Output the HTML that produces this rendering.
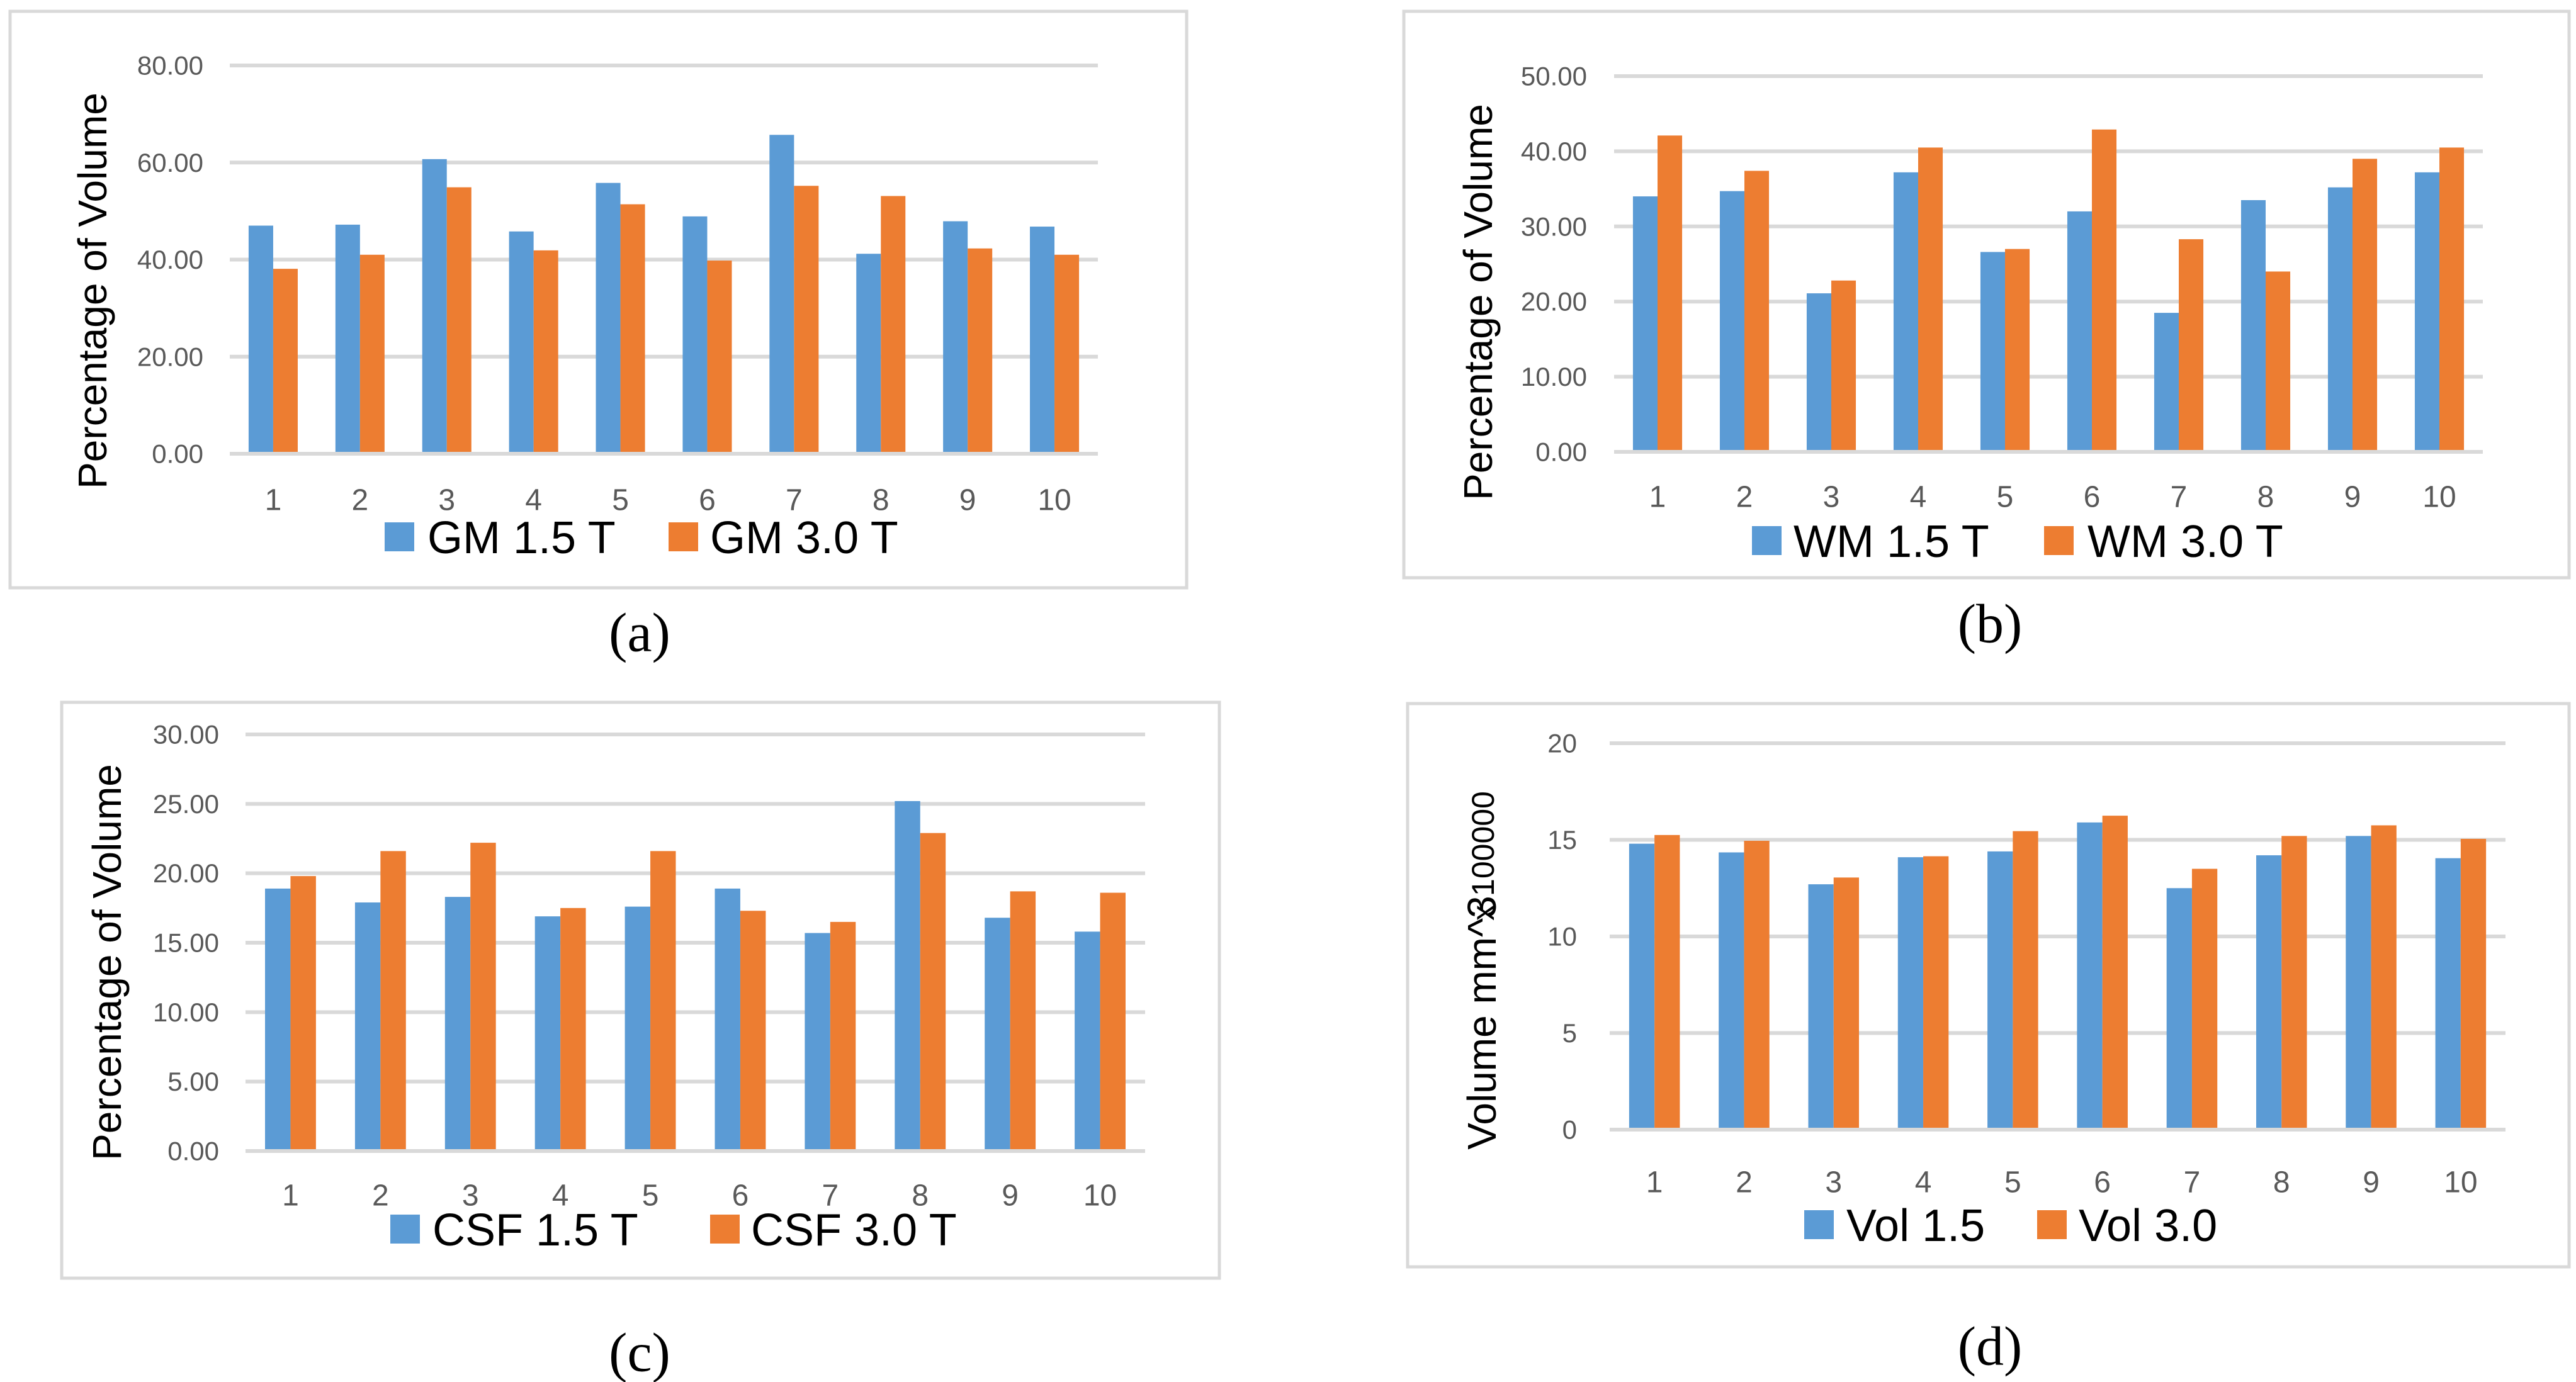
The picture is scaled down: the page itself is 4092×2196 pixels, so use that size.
<!DOCTYPE html>
<html><head><meta charset="utf-8">
<style>
html,body{margin:0;padding:0;background:#fff;}
svg{display:block;}
</style></head>
<body>
<svg id="fig" width="4092" height="2196" viewBox="0 0 4092 2196" xmlns="http://www.w3.org/2000/svg"></svg>
<script>
// ---- data ----
const categories = ['1','2','3','4','5','6','7','8','9','10'];
const gm15 = [47.0,47.2,60.7,45.8,55.8,48.9,65.7,41.2,47.9,46.8];
const gm30 = [38.1,41.0,54.9,41.9,51.4,39.8,55.2,53.1,42.3,41.0];
const gmTicks = ['0.00','20.00','40.00','60.00','80.00'];
const wm15 = [34.0,34.7,21.1,37.2,26.6,32.0,18.5,33.5,35.2,37.2];
const wm30 = [42.1,37.4,22.8,40.5,27.0,42.9,28.3,24.0,39.0,40.5];
const wmTicks = ['0.00','10.00','20.00','30.00','40.00','50.00'];
const csf15 = [18.9,17.9,18.3,16.9,17.6,18.9,15.7,25.2,16.8,15.8];
const csf30 = [19.8,21.6,22.2,17.5,21.6,17.3,16.5,22.9,18.7,18.6];
const csfTicks = ['0.00','5.00','10.00','15.00','20.00','25.00','30.00'];
const vol15 = [14.8,14.35,12.7,14.1,14.4,15.9,12.5,14.2,15.2,14.05];
const vol30 = [15.25,14.95,13.05,14.15,15.45,16.25,13.5,15.2,15.75,15.05];
const volTicks = ['0','5','10','15','20'];

const NS='http://www.w3.org/2000/svg';
const svg=document.getElementById('fig');
function mk(tag,attrs,parent){const e=document.createElementNS(NS,tag);for(const k in attrs)e.setAttribute(k,attrs[k]);(parent||svg).appendChild(e);return e;}

const panels=[
 {id:'a',s1:gm15,s2:gm30,ticks:gmTicks,names:['GM 1.5 T','GM 3.0 T'],box:[16,18,1885,934],x0:365,x1:1744,yTop:104,yBase:721,
  lblR:323,catY:795,legY:853,leg:[611,679,1062,1128],cap:[1016,1006,'(a)'],ytx:147,yty:462,title:'Percentage of Volume'},
 {id:'b',s1:wm15,s2:wm30,ticks:wmTicks,names:['WM 1.5 T','WM 3.0 T'],box:[2230,18,4081,918],x0:2564,x1:3944,yTop:121,yBase:718,
  lblR:2521,catY:790,legY:859,leg:[2783,2849,3247,3316],cap:[3161,992,'(b)'],ytx:2348,yty:480,title:'Percentage of Volume'},
 {id:'c',s1:csf15,s2:csf30,ticks:csfTicks,names:['CSF 1.5 T','CSF 3.0 T'],box:[98,1116,1937,2031],x0:390,x1:1819,yTop:1167,yBase:1829,
  lblR:348,catY:1900,legY:1953,leg:[620,687,1128,1193],cap:[1016,2150,'(c)'],ytx:170,yty:1529,title:'Percentage of Volume'},
 {id:'d',s1:vol15,s2:vol30,ticks:volTicks,names:['Vol 1.5','Vol 3.0'],box:[2236,1118,4081,2013],x0:2557,x1:3980,yTop:1181,yBase:1795,
  lblR:2505,catY:1879,legY:1946,leg:[2866,2933,3236,3302],cap:[3161,2140,'(d)'],ytx:2354,yty:1560,title:'Volume mm^3',sub:'x 100000'}
];

panels.forEach(p=>{
  const g=mk('g',{});
  
  
  const b=p.box;
  const frame=mk('rect',{x:b[0],y:b[1],width:b[2]-b[0],height:b[3]-b[1],fill:'#fff',stroke:'#d9d9d9','stroke-width':5},g);
  
  
  const tmax=parseFloat(p.ticks[p.ticks.length-1]);
  const yScale=v=>p.yBase-(v/tmax)*(p.yBase-p.yTop);
  p.ticks.forEach(t=>{
    const y=yScale(parseFloat(t));
    const gl=mk('line',{x1:p.x0,x2:p.x1,y1:y,y2:y,stroke:'#d9d9d9','stroke-width':6},g);
    
    
    const tl=mk('text',{x:p.lblR,y:y,'text-anchor':'end','dominant-baseline':'central','font-family':'Liberation Sans, sans-serif','font-size':42,fill:'#595959'},g);
    tl.textContent=t;
    
    
  });
  const band=(p.x1-p.x0)/categories.length;
  const bw=band*0.283, off=(band-2*bw)/2;
  categories.forEach((c,i)=>{
    const bx=p.x0+i*band+off;
    const v1=p.s1[i], v2=p.s2[i];
    const r1=mk('rect',{x:bx,y:yScale(v1),width:bw,height:p.yBase-3-yScale(v1),fill:'#5b9bd5'},g);
    
    
    const r2=mk('rect',{x:bx+bw,y:yScale(v2),width:bw,height:p.yBase-3-yScale(v2),fill:'#ed7d31'},g);
    
    
    const cl=mk('text',{x:p.x0+(i+0.5)*band,y:p.catY,'text-anchor':'middle','dominant-baseline':'central','font-family':'Liberation Sans, sans-serif','font-size':48,fill:'#595959'},g);
    cl.textContent=c;
    
    
  });
  const cols=['#5b9bd5','#ed7d31'];
  [0,1].forEach(k=>{
    const sq=mk('rect',{x:p.leg[k*2],y:p.legY-23,width:47,height:46,fill:cols[k]},g);
    
    
    const lt=mk('text',{x:p.leg[k*2+1],y:p.legY+2,'dominant-baseline':'central','font-family':'Liberation Sans, sans-serif','font-size':72,fill:'#000'},g);
    lt.textContent=p.names[k];
    
    
  });
  const yt=mk('text',{x:0,y:0,transform:'translate('+p.ytx+','+p.yty+') rotate(-90)','text-anchor':'middle','dominant-baseline':'central','font-family':'Liberation Sans, sans-serif','font-size':64,fill:'#000'},g);
  yt.textContent=p.title;
  
  
  if(p.sub){
    yt.setAttribute('transform','translate('+p.ytx+',1625) rotate(-90)');
    const st=mk('text',{x:0,y:0,transform:'translate('+(p.ytx+2)+',1360) rotate(-90)','text-anchor':'middle','dominant-baseline':'central','font-family':'Liberation Sans, sans-serif','font-size':50,fill:'#000'},g);
    st.textContent=p.sub;
    
    
  }
  const cap=mk('text',{x:p.cap[0],y:p.cap[1],'text-anchor':'middle','dominant-baseline':'central','font-family':'Liberation Serif, serif','font-size':88,fill:'#000'});
  cap.textContent=p.cap[2];
  
  
});
</script>
</body></html>
